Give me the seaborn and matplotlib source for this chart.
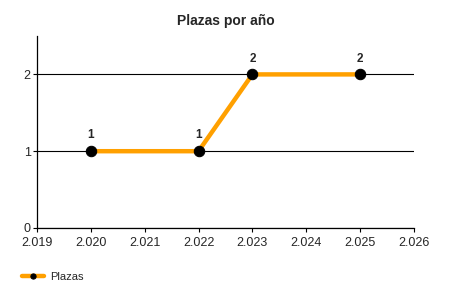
import matplotlib
matplotlib.use("Agg")
import matplotlib.pyplot as plt
import seaborn as sns
import pandas as pd
from matplotlib.ticker import FuncFormatter

years = [2020, 2022, 2023, 2025]
plazas = [1, 1, 2, 2]
x_ticks = [2019, 2020, 2021, 2022, 2023, 2024, 2025, 2026]
y_ticks = [0, 1, 2]

sns.set_style("white")
plt.rcParams['font.family'] = ['Liberation Sans', 'DejaVu Sans']

df = pd.DataFrame({"Año": years, "Plazas": plazas})

fig = plt.figure(figsize=(4.5, 3), dpi=100)
ax = fig.add_axes([0.082, 0.24, 0.838, 0.64])

sns.lineplot(data=df, x="Año", y="Plazas", ax=ax, color="#FFA000", linewidth=3.2,
             marker="o", markersize=7.5, markerfacecolor="black", markeredgecolor="black",
             label="Plazas", zorder=3)

for xv, yv in zip(years, plazas):
    ax.annotate(str(yv), (xv, yv), xytext=(0, 7), textcoords="offset points",
                ha="center", va="bottom", fontsize=8.5, fontweight="bold")

ax.set_xlim(2019, 2026)
ax.set_ylim(0, 2.5)
ax.set_xticks(x_ticks)
ax.set_yticks(y_ticks)
ax.xaxis.set_major_formatter(FuncFormatter(lambda v, p: f"{int(v)//1000}.{int(v)%1000:03d}"))
ax.yaxis.grid(True, color="black", linewidth=0.8)
ax.set_axisbelow(True)
for s in ["top", "right"]:
    ax.spines[s].set_visible(False)
for s in ["left", "bottom"]:
    ax.spines[s].set_color("black")
    ax.spines[s].set_linewidth(0.9)
ax.tick_params(axis="both", direction="out", length=3, width=0.8, color="black",
               labelsize=9, bottom=True, left=True)
ax.tick_params(axis="x", pad=3.5)
ax.tick_params(axis="y", pad=1.5)
ax.set_xlabel("")
ax.set_ylabel("")
ax.set_title("Plazas por año", fontsize=10, fontweight="bold", pad=8)

leg = ax.legend(loc="center left", bbox_to_anchor=(-0.04, -0.255), frameon=False,
                fontsize=8, handlelength=2.0, handletextpad=0.55, markerscale=0.5,
                borderaxespad=0, borderpad=0)

fig.savefig("out.png", dpi=100)
